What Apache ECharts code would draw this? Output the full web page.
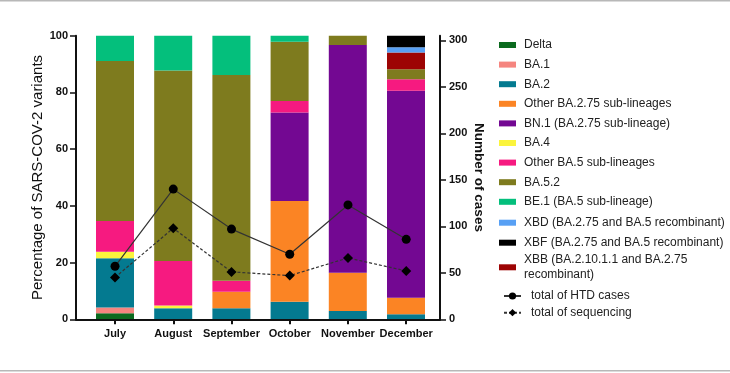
<!DOCTYPE html>
<html>
<head>
<meta charset="utf-8">
<script src="https://cdn.jsdelivr.net/npm/echarts@6/dist/echarts.min.js"></script>
<style>
  html, body { margin: 0; padding: 0; background: #fff; }
  #main { width: 730px; height: 373px; }
</style>
</head>
<body>
<div id="main"></div>
<script>
// months on the x axis
const months = ['July', 'August', 'September', 'October', 'November', 'December'];

// percentage of each variant per month (left axis)
const delta = [2.1, 0, 0, 0, 0, 0];
const ba1 = [2.1, 0, 0, 0, 0, 0];
const ba2 = [17.3, 3.9, 3.9, 6.2, 2.9, 1.8];
const otherBA275 = [0, 0, 5.8, 35.5, 13.5, 5.8];
const bn1 = [0, 0, 0, 31.2, 80.3, 73.0];
const ba4 = [2.3, 1.0, 0, 0, 0, 0];
const otherBA5 = [10.9, 15.7, 3.9, 4.1, 0, 4.0];
const ba52 = [56.4, 67.1, 72.5, 20.9, 3.3, 3.6];
const be1 = [8.9, 12.3, 13.9, 2.1, 0, 0];
const xbb = [0, 0, 0, 0, 0, 5.9];
const xbd = [0, 0, 0, 0, 0, 1.8];
const xbf = [0, 0, 0, 0, 0, 4.1];

// counts (right axis)
const htdCases = [57, 140, 97, 70, 123, 86];
const sequencing = [45, 98, 51, 47, 66, 52];

// tick labels
const pctTicks = [0, 20, 40, 60, 80, 100];
const caseTicks = [0, 50, 100, 150, 200, 250, 300];
const monthTicks = [0, 1, 2, 3, 4, 5];

const FONT = 'Liberation Sans';

const XBB_NAME = 'XBB (BA.2.10.1.1 and BA.2.75\nrecombinant)';

const variants = [
  { name: 'Delta', data: delta, color: '#0b6a1e' },
  { name: 'BA.1', data: ba1, color: '#f5857f' },
  { name: 'BA.2', data: ba2, color: '#047a90' },
  { name: 'Other BA.2.75 sub-lineages', data: otherBA275, color: '#fb8424' },
  { name: 'BN.1 (BA.2.75 sub-lineage)', data: bn1, color: '#730892' },
  { name: 'BA.4', data: ba4, color: '#fbf43c' },
  { name: 'Other BA.5 sub-lineages', data: otherBA5, color: '#f61a80' },
  { name: 'BA.5.2', data: ba52, color: '#7e7b1e' },
  { name: 'BE.1 (BA.5 sub-lineage)', data: be1, color: '#04bf7c' },
  { name: XBB_NAME, data: xbb, color: '#9d0404' },
  { name: 'XBD (BA.2.75 and BA.5 recombinant)', data: xbd, color: '#58a0f4' },
  { name: 'XBF (BA.2.75 and BA.5 recombinant)', data: xbf, color: '#000000' },
];

const toPoints = (arr) => arr.map((v, i) => [i, v]);

// bars live in a second, hidden grid whose category bands line up with the ticks
const barSeries = variants.map((v) => ({
  name: v.name,
  type: 'bar',
  stack: 'pct',
  barWidth: 38,
  xAxisIndex: 1,
  yAxisIndex: 2,
  data: v.data,
  itemStyle: { color: v.color },
  z: 2,
}));

const lineSeries = [
  {
    name: 'total of HTD cases',
    type: 'line',
    xAxisIndex: 0,
    yAxisIndex: 1,
    data: toPoints(htdCases),
    symbol: 'circle',
    symbolSize: 9,
    itemStyle: { color: '#000' },
    lineStyle: { color: '#333', width: 1.2 },
    z: 5,
  },
  {
    name: 'total of sequencing',
    type: 'line',
    xAxisIndex: 0,
    yAxisIndex: 1,
    data: toPoints(sequencing),
    symbol: 'diamond',
    symbolSize: 10,
    itemStyle: { color: '#000' },
    lineStyle: { color: '#333', width: 1.2, type: [3, 2] },
    z: 5,
  },
];

const legendText = { fontFamily: FONT, fontSize: 12, color: '#222', lineHeight: 14, padding: [0, 0, 0, 3] };
const axisLabelStyle = { fontFamily: FONT, fontSize: 11, fontWeight: 'bold', color: '#111' };

const chart = echarts.init(document.getElementById('main'));

chart.setOption({
  animation: false,
  backgroundColor: '#fff',
  grid: [
    { left: 76, right: 290, top: 35.7, bottom: 53.7 },
    { left: 85.9, right: 294.9, top: 35.7, bottom: 53.7 },
  ],
  xAxis: [
    {
      type: 'value',
      gridIndex: 0,
      min: -0.67,
      max: 5.58,
      splitLine: { show: false },
      axisLine: { show: true, onZero: false, lineStyle: { color: '#111', width: 2 } },
      axisTick: { show: true, customValues: monthTicks, length: 5, lineStyle: { color: '#111', width: 2 } },
      axisLabel: Object.assign({ customValues: monthTicks, formatter: (v) => months[v], margin: 9 }, axisLabelStyle),
      z: 10,
    },
    {
      type: 'category',
      gridIndex: 1,
      data: months,
      show: false,
    },
  ],
  yAxis: [
    {
      type: 'value',
      gridIndex: 0,
      min: 0,
      max: 100,
      position: 'left',
      splitLine: { show: false },
      axisLine: { show: true, onZero: false, lineStyle: { color: '#111', width: 2 } },
      axisTick: { show: true, customValues: pctTicks, length: 6, lineStyle: { color: '#111', width: 1.5 } },
      axisLabel: Object.assign({ customValues: pctTicks, margin: 8 }, axisLabelStyle),
      name: 'Percentage of SARS-COV-2 variants',
      nameLocation: 'middle',
      nameGap: 30,
      nameRotate: 90,
      nameTextStyle: { fontFamily: FONT, fontSize: 15, color: '#111' },
      z: 10,
    },
    {
      type: 'value',
      gridIndex: 0,
      min: 0,
      max: 305,
      position: 'right',
      splitLine: { show: false },
      axisLine: { show: true, onZero: false, lineStyle: { color: '#111', width: 2 } },
      axisTick: { show: true, customValues: caseTicks, length: 6, lineStyle: { color: '#111', width: 1.5 } },
      axisLabel: Object.assign({ customValues: caseTicks, margin: 9 }, axisLabelStyle),
      name: 'Number of cases',
      nameLocation: 'middle',
      nameGap: 28,
      nameRotate: -90,
      nameTextStyle: { fontFamily: FONT, fontSize: 13.5, fontWeight: 'bold', color: '#111' },
      z: 10,
    },
    {
      type: 'value',
      gridIndex: 1,
      min: 0,
      max: 100,
      show: false,
    },
  ],
  legend: [
    {
      data: variants.slice(0, 9).map((v) => v.name),
      orient: 'vertical',
      left: 499, top: 38, padding: 0,
      itemWidth: 17, itemHeight: 6, itemGap: 5.6,
      icon: 'rect',
      textStyle: legendText,
    },
    {
      data: [variants[10].name, variants[11].name],
      orient: 'vertical',
      left: 499, top: 215.7, padding: 0,
      itemWidth: 17, itemHeight: 6, itemGap: 6,
      icon: 'rect',
      textStyle: legendText,
    },
    {
      data: [XBB_NAME],
      orient: 'vertical',
      left: 499, top: 252.3, padding: 0,
      itemWidth: 17, itemHeight: 6,
      icon: 'rect',
      textStyle: Object.assign({}, legendText, { lineHeight: 15 }),
    },
    {
      data: ['total of HTD cases', 'total of sequencing'],
      orient: 'vertical',
      left: 503, top: 289, padding: 0,
      itemWidth: 17, itemHeight: 9, itemGap: 2.7,
      textStyle: Object.assign({}, legendText, { padding: [0, 0, 0, 5] }),
    },
  ],
  graphic: [
    { type: 'rect', left: 0, top: 0, shape: { width: 730, height: 1.5 }, style: { fill: '#b8b8b8' } },
    { type: 'rect', left: 0, top: 370, shape: { width: 730, height: 1.5 }, style: { fill: '#b8b8b8' } },
  ],
  series: barSeries.concat(lineSeries),
});
</script>
</body>
</html>
